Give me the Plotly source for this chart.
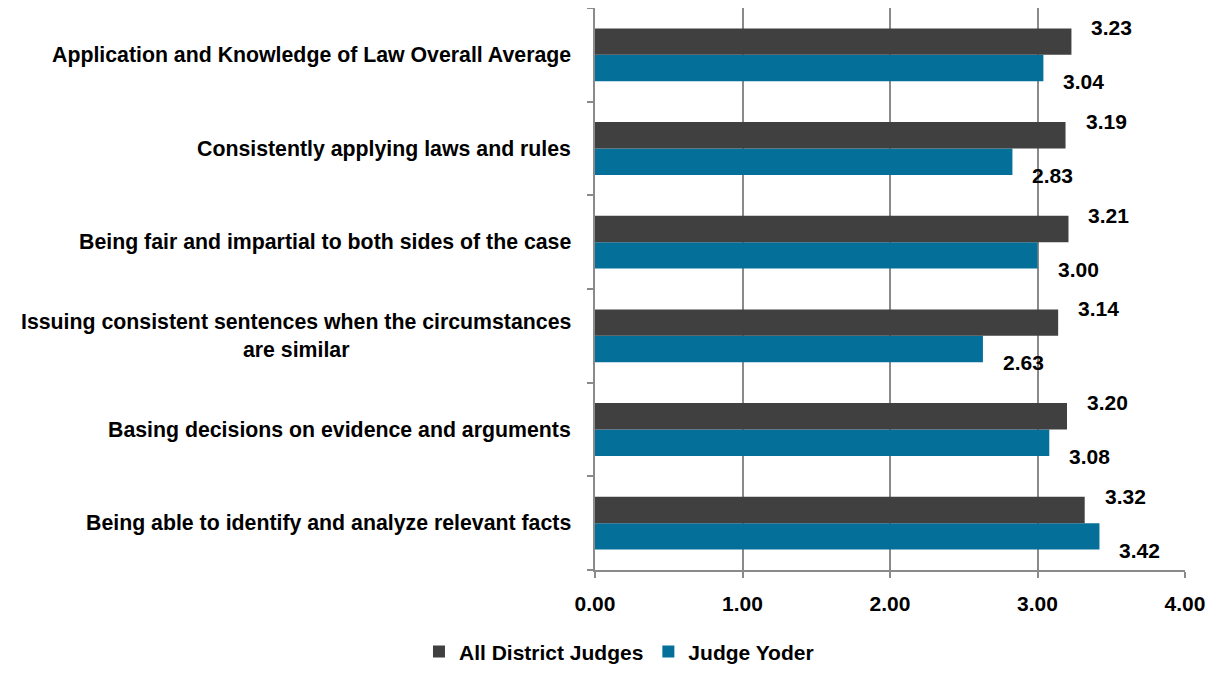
import plotly.graph_objects as go

categories = [
    "Application and Knowledge of Law Overall Average",
    "Consistently applying laws and rules",
    "Being fair and impartial to both sides of the case",
    "Issuing consistent sentences when the circumstances<br>are similar",
    "Basing decisions on evidence and arguments",
    "Being able to identify and analyze relevant facts",
]
all_district = [3.23, 3.19, 3.21, 3.14, 3.20, 3.32]
judge_yoder = [3.04, 2.83, 3.00, 2.63, 3.08, 3.42]
x_ticks = [0, 1, 2, 3, 4]
x_tick_labels = ["0.00", "1.00", "2.00", "3.00", "4.00"]

FONT = "Liberation Sans Narrow, Arial Narrow, Liberation Sans, Arial, sans-serif"
DARK = "#404040"
TEAL = "#04709A"
GRID = "#8A8A8A"

# bottom-to-top order for plotly's categorical axis
cats = categories[::-1]
ad = all_district[::-1]
jy = judge_yoder[::-1]

fig = go.Figure()
fig.add_trace(go.Bar(y=cats, x=jy, orientation="h", name="<b>Judge Yoder</b>",
                     marker=dict(color=TEAL, line=dict(width=0))))
fig.add_trace(go.Bar(y=cats, x=ad, orientation="h", name="<b>All District Judges</b>",
                     marker=dict(color=DARK, line=dict(width=0))))

annotations = []
for c, a, j in zip(cats, ad, jy):
    annotations.append(dict(x=a, y=c, xref="x", yref="y", text=f"<b>{a:.2f}</b>",
                            showarrow=False, xanchor="left", xshift=18, yshift=27,
                            font=dict(family=FONT, size=21, color="#000")))
    annotations.append(dict(x=j, y=c, xref="x", yref="y", text=f"<b>{j:.2f}</b>",
                            showarrow=False, xanchor="left", xshift=18, yshift=-27,
                            font=dict(family=FONT, size=21, color="#000")))
    annotations.append(dict(x=0, y=c, xref="paper", yref="y", text=f"<b>{c}</b>",
                            showarrow=False, xanchor="right", align="center", xshift=-22,
                            font=dict(family=FONT, size=21.3, color="#000")))

fig.update_layout(
    width=1198, height=659,
    margin=dict(l=587, r=21, t=0, b=97),
    paper_bgcolor="white", plot_bgcolor="white",
    barmode="group", bargap=0.436, bargroupgap=0,
    font=dict(family=FONT, size=20, color="#000"),
    showlegend=True,
    legend=dict(orientation="h", xref="container", x=0.51, xanchor="center",
                yref="container", y=0.023, yanchor="middle",
                traceorder="reversed", itemwidth=30,
                font=dict(family=FONT, size=21, color="#000")),
    annotations=annotations,
)
fig.update_xaxes(range=[0, 4], tickvals=x_ticks, ticktext=[f"<b>{t}</b>" for t in x_tick_labels],
                 showgrid=True, gridcolor=GRID, gridwidth=2,
                 showline=True, linecolor=GRID, linewidth=2,
                 ticks="outside", ticklen=6, tickcolor=GRID, tickwidth=2,
                 ticklabelstandoff=8,
                 tickfont=dict(family=FONT, size=21, color="#000"), zeroline=False)
fig.update_yaxes(showticklabels=False, showline=True, linecolor=GRID, linewidth=2,
                 ticks="outside", ticklen=6, tickcolor=GRID, tickwidth=2,
                 tickson="boundaries", showgrid=False)

fig.write_html("out.html")
